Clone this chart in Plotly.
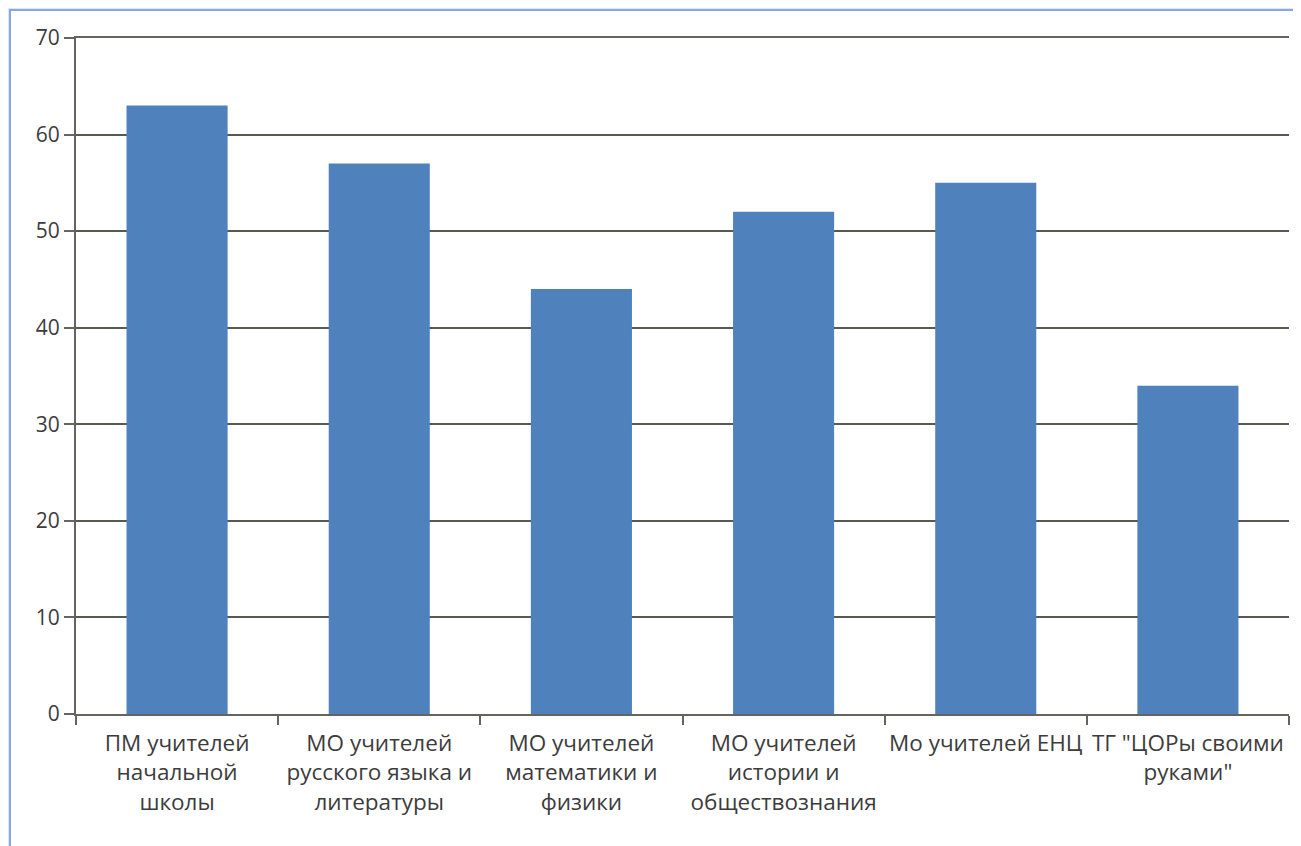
import plotly.graph_objects as go

categories = [
    "ПМ учителей<br>начальной<br>школы",
    "МО учителей<br>русского языка и<br>литературы",
    "МО учителей<br>математики и<br>физики",
    "МО учителей<br>истории и<br>обществознания",
    "Мо учителей ЕНЦ",
    "ТГ \"ЦОРы своими<br>руками\"",
]
values = [63, 57, 44, 52, 55, 34]
y_ticks = [0, 10, 20, 30, 40, 50, 60, 70]

# page has an 8px body margin, so the figure is offset by 8px
W, H = 1293, 838
L, R, T, B = 68, 12, 30, 132
pw = W - L - R
ph = H - T - B

fig = go.Figure(go.Bar(x=categories, y=values,
                       marker=dict(color="#4f81bd", line=dict(width=0))))

axis_col = "#656560"
grid_col = "#595950"
font = dict(family="Open Sans, DejaVu Sans, sans-serif", size=21, color="#3c3c3c")

fig.update_layout(
    width=W, height=H,
    margin=dict(l=L, r=R, t=T, b=B, pad=0),
    paper_bgcolor="#dde8f6",
    plot_bgcolor="white",
    font=font,
    showlegend=False,
    bargap=0.5,
    xaxis=dict(
        type="category",
        showline=True, linecolor=axis_col, linewidth=2, mirror=True,
        ticks="outside", ticklen=9, tickwidth=2, tickcolor=axis_col,
        tickson="boundaries",
        showgrid=False, zeroline=False,
        tickangle=0,
        tickfont=dict(size=22.5),
        ticklabelstandoff=8,
    ),
    yaxis=dict(
        range=[0, 70],
        tickvals=y_ticks,
        showline=True, linecolor=axis_col, linewidth=2,
        ticks="outside", ticklen=10, tickwidth=2, tickcolor=axis_col,
        showgrid=True, gridcolor=grid_col, gridwidth=2,
        zeroline=False,
    ),
)

# white panel with blue frame behind the chart
x0 = (2 - L) / pw
y1 = (H - B - 2) / ph
fig.add_shape(type="rect", xref="paper", yref="paper",
              x0=x0, x1=1.2, y0=-0.5, y1=y1,
              fillcolor="white", line=dict(color="#86a9dc", width=2),
              layer="below")

fig.write_html("out.html")
